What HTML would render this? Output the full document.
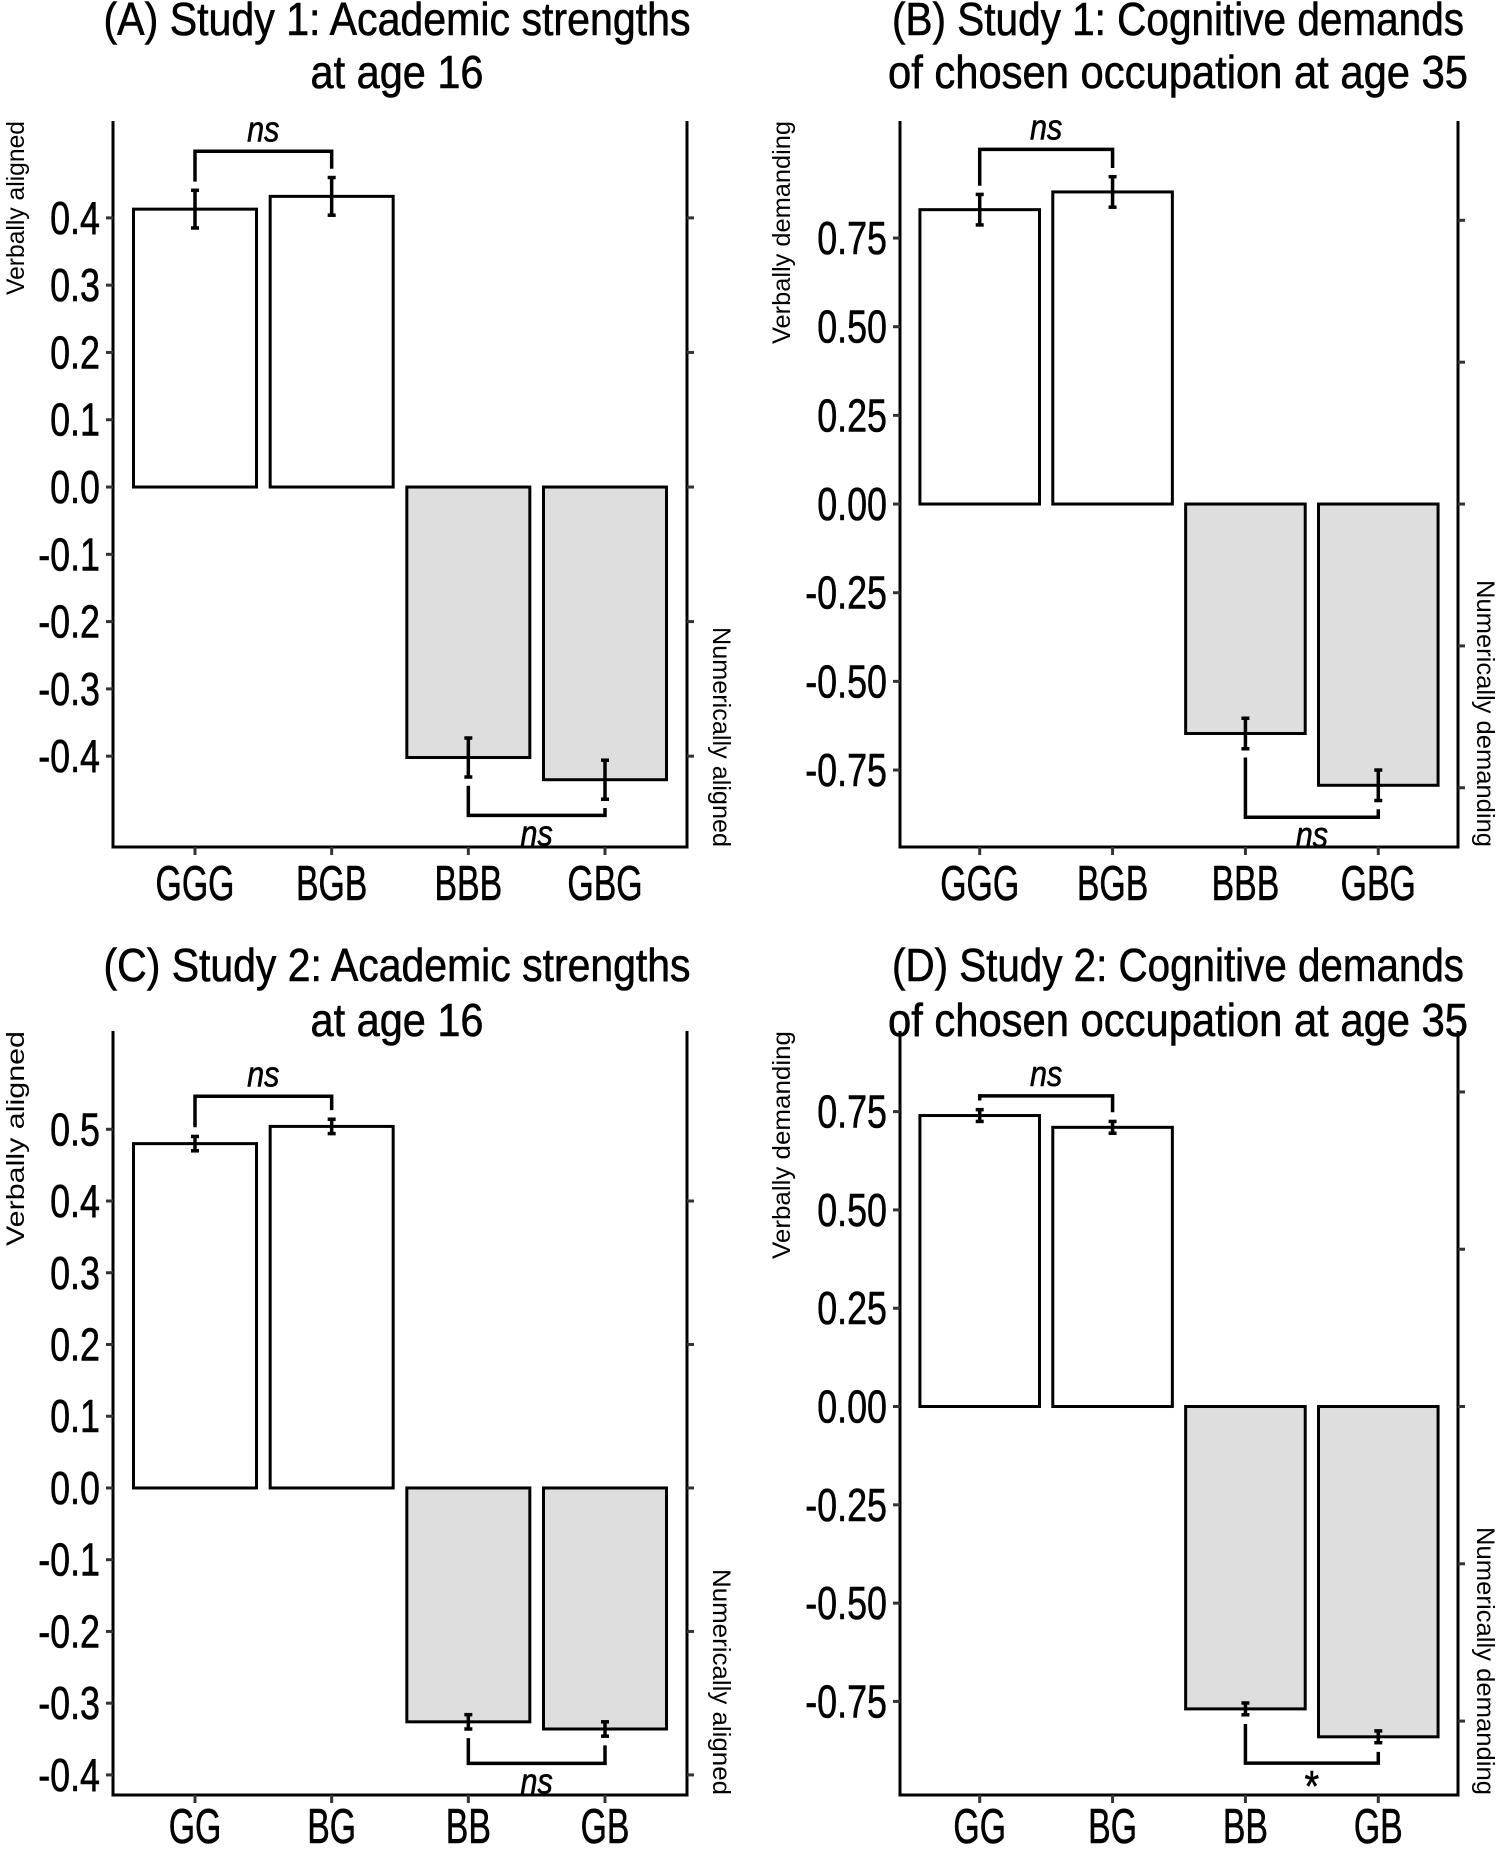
<!DOCTYPE html>
<html><head><meta charset="utf-8"><style>
html,body{margin:0;padding:0;background:#fff}
svg{display:block}
text{font-family:"Liberation Sans",sans-serif;fill:#000}
.bold{stroke:#000;stroke-width:0.6px}
</style></head><body>
<svg id="fig" width="1497" height="1849" viewBox="0 0 1497 1849"></svg>
<script>
// ---- data (top level) ----
const catsA = ["GGG","BGB","BBB","GBG"];
const valsA = [0.413, 0.432, -0.402, -0.435];
const errsA = [0.028, 0.028, 0.029, 0.029];
const ticksA = [-0.4,-0.3,-0.2,-0.1,0.0,0.1,0.2,0.3,0.4];
const tickLabelsA = ["-0.4","-0.3","-0.2","-0.1","0.0","0.1","0.2","0.3","0.4"];
const rticksA = [-0.4,-0.2,0,0.2,0.4];
const bracketsA = [0.499, -0.488];
const sigA = ["ns","ns"];

const catsB = ["GGG","BGB","BBB","GBG"];
const valsB = [0.83, 0.88, -0.647, -0.793];
const errsB = [0.043, 0.043, 0.043, 0.043];
const ticksB = [-0.75,-0.5,-0.25,0,0.25,0.5,0.75];
const tickLabelsB = ["-0.75","-0.50","-0.25","0.00","0.25","0.50","0.75"];
const rticksB = [-0.8,-0.4,0,0.4,0.8];
const bracketsB = [1.0, -0.883];
const sigB = ["ns","ns"];

const catsC = ["GG","BG","BB","GB"];
const valsC = [0.48, 0.504, -0.326, -0.336];
const errsC = [0.01, 0.01, 0.01, 0.01];
const ticksC = [-0.4,-0.3,-0.2,-0.1,0.0,0.1,0.2,0.3,0.4,0.5];
const tickLabelsC = ["-0.4","-0.3","-0.2","-0.1","0.0","0.1","0.2","0.3","0.4","0.5"];
const rticksC = [-0.4,-0.2,0,0.2,0.4];
const bracketsC = [0.546, -0.384];
const sigC = ["ns","ns"];

const catsD = ["GG","BG","BB","GB"];
const valsD = [0.74, 0.71, -0.769, -0.84];
const errsD = [0.015, 0.015, 0.015, 0.015];
const ticksD = [-0.75,-0.5,-0.25,0,0.25,0.5,0.75];
const tickLabelsD = ["-0.75","-0.50","-0.25","0.00","0.25","0.50","0.75"];
const rticksD = [-0.8,-0.4,0,0.4,0.8];
const bracketsD = [0.79, -0.907];
const sigD = ["ns","*"];

// ---- layout ----
const NS = "http://www.w3.org/2000/svg";
const svg = document.getElementById("fig");
function mk(tag, attrs, parent){
  const e = document.createElementNS(NS, tag);
  for (const k in attrs) e.setAttribute(k, attrs[k]);
  (parent||svg).appendChild(e);
  return e;
}
function squeeze(t, f){
  const w = t.getComputedTextLength();
  t.setAttribute("textLength", (w*f).toFixed(1));
  t.setAttribute("lengthAdjust","spacingAndGlyphs");
}

const panels = [
  {id:"a", cats:catsA, vals:valsA, errs:errsA, ticks:ticksA, tl:tickLabelsA, rt:rticksA, br:bracketsA, sig:sigA,
   x0:113, x1:687, y0:121, y1:847, dmax:0.544, dmin:-0.535,
   t1:"(A) Study 1: Academic strengths", t2:"at age 16", tcx:397, t1y:35, t2y:88, t1w:587, t2w:173,
   lt:"Verbally aligned", rtl:"Numerically aligned", ltw:174, rtw:220, lx:16, rx:721, xly:900},
  {id:"b", cats:catsB, vals:valsB, errs:errsB, ticks:ticksB, tl:tickLabelsB, rt:rticksB, br:bracketsB, sig:sigB,
   x0:900, x1:1458, y0:121, y1:847, dmax:1.08, dmin:-0.967,
   t1:"(B) Study 1: Cognitive demands", t2:"of chosen occupation at age 35", tcx:1178, t1y:35, t2y:88, t1w:572, t2w:580,
   lt:"Verbally demanding", rtl:"Numerically demanding", ltw:223, rtw:267, lx:782, rx:1485, xly:900},
  {id:"c", cats:catsC, vals:valsC, errs:errsC, ticks:ticksC, tl:tickLabelsC, rt:rticksC, br:bracketsC, sig:sigC,
   x0:113, x1:687, y0:1031, y1:1795, dmax:0.637, dmin:-0.428,
   t1:"(C) Study 2: Academic strengths", t2:"at age 16", tcx:397, t1y:981, t2y:1036, t1w:587, t2w:173,
   lt:"Verbally aligned", rtl:"Numerically aligned", ltw:215, rtw:226, lx:16, rx:721, xly:1843},
  {id:"d", cats:catsD, vals:valsD, errs:errsD, ticks:ticksD, tl:tickLabelsD, rt:rticksD, br:bracketsD, sig:sigD,
   x0:900, x1:1458, y0:1031, y1:1795, dmax:0.955, dmin:-0.988,
   t1:"(D) Study 2: Cognitive demands", t2:"of chosen occupation at age 35", tcx:1178, t1y:981, t2y:1036, t1w:572, t2w:580,
   lt:"Verbally demanding", rtl:"Numerically demanding", ltw:228, rtw:268, lx:782, rx:1485, xly:1843}
];
panels.forEach(p=>{
  const g = mk("g", {});
  
  
  const y = v => p.y1 - (v - p.dmin) / (p.dmax - p.dmin) * (p.y1 - p.y0);
  const unit = (p.x1 - p.x0) / 4.2;
  const xc = i => p.x0 + (0.6 + i) * unit;
  const bw = 0.9 * unit;

  const t1 = mk("text", {x:p.tcx, y:p.t1y, "text-anchor":"middle", "font-size":46, class:"bold"}, g);
  t1.textContent = p.t1;
  
  
  t1.setAttribute("textLength", p.t1w); t1.setAttribute("lengthAdjust","spacingAndGlyphs");
  const t2 = mk("text", {x:p.tcx, y:p.t2y, "text-anchor":"middle", "font-size":46, class:"bold"}, g);
  t2.textContent = p.t2;
  
  
  t2.setAttribute("textLength", p.t2w); t2.setAttribute("lengthAdjust","spacingAndGlyphs");

  p.vals.forEach((v,i)=>{
    const yt = y(Math.max(v,0)), yb = y(Math.min(v,0));
    const r = mk("rect", {x:xc(i)-bw/2, y:yt, width:bw, height:yb-yt, fill: v>=0 ? "#ffffff" : "#dedede", stroke:"#000", "stroke-width":3}, g);
    
    
  });
  p.vals.forEach((v,i)=>{
    const e = p.errs[i], x = xc(i);
    const eg = mk("g", {stroke:"#000", "stroke-width":3.5}, g);
    
    
    mk("line", {x1:x, x2:x, y1:y(v+e), y2:y(v-e)}, eg);
    mk("line", {x1:x-4, x2:x+4, y1:y(v+e), y2:y(v+e)}, eg);
    mk("line", {x1:x-4, x2:x+4, y1:y(v-e), y2:y(v-e)}, eg);
  });
  [[0,1,p.br[0],1],[2,3,p.br[1],-1]].forEach(([a,b,lvl,dir],k)=>{
    const bg = mk("g", {stroke:"#000", "stroke-width":3.5, fill:"none"}, g);
    
    
    const endA = dir>0 ? p.vals[a]+p.errs[a] : p.vals[a]-p.errs[a];
    const endB = dir>0 ? p.vals[b]+p.errs[b] : p.vals[b]-p.errs[b];
    const gap = 0.012*(p.dmax-p.dmin)*dir;
    mk("polyline", {points:`${xc(a)},${y(endA+gap)} ${xc(a)},${y(lvl)} ${xc(b)},${y(lvl)} ${xc(b)},${y(endB+gap)}`}, bg);
    const s = p.sig[k];
    const ty = dir>0 ? y(lvl)-10 : y(lvl)+ (s==="*"?38:30);
    const st = mk("text", {x:(xc(a)+xc(b))/2, y:ty, "text-anchor":"middle", "font-size": s==="*"?44:36, "font-style": s==="*"?"normal":"italic", class:"bold"}, g);
    st.textContent = s;
    
    
    squeeze(st, 0.85);
  });
  const ax = mk("g", {stroke:"#000", "stroke-width":3, fill:"none"}, g);
  
  
  mk("polyline", {points:`${p.x0},${p.y0} ${p.x0},${p.y1} ${p.x1},${p.y1} ${p.x1},${p.y0}`}, ax);
  p.ticks.forEach((v,i)=>{
    mk("line", {x1:p.x0-7, x2:p.x0, y1:y(v), y2:y(v), stroke:"#333"}, ax);
    const t = mk("text", {x:p.x0-13, y:y(v)+16, "text-anchor":"end", "font-size":46, class:"bold"}, g);
    t.textContent = p.tl[i];
    
    
    squeeze(t, 0.78);
  });
  p.rt.forEach(v=>{
    if (y(v) < p.y0 || y(v) > p.y1) return;
    mk("line", {x1:p.x1, x2:p.x1+7, y1:y(v), y2:y(v), stroke:"#333"}, ax);
  });
  p.cats.forEach((c,i)=>{
    mk("line", {x1:xc(i), x2:xc(i), y1:p.y1, y2:p.y1+8, stroke:"#333"}, ax);
    const t = mk("text", {x:xc(i), y:p.xly, "text-anchor":"middle", "font-size":49, class:"bold"}, g);
    t.textContent = c;
    
    
    squeeze(t, 0.69);
  });
  const lt = mk("text", {x:0, y:0, "text-anchor":"end", "font-size":25, transform:`translate(${p.lx+8},${p.y0}) rotate(-90)`}, g);
  lt.textContent = p.lt;
  
  
  lt.setAttribute("textLength", p.ltw); lt.setAttribute("lengthAdjust","spacingAndGlyphs");
  const rtt = mk("text", {x:0, y:0, "text-anchor":"end", "font-size":25, transform:`translate(${p.rx-8},${p.y1}) rotate(90)`}, g);
  rtt.textContent = p.rtl;
  
  
  rtt.setAttribute("textLength", p.rtw); rtt.setAttribute("lengthAdjust","spacingAndGlyphs");
});
</script>
</body></html>
